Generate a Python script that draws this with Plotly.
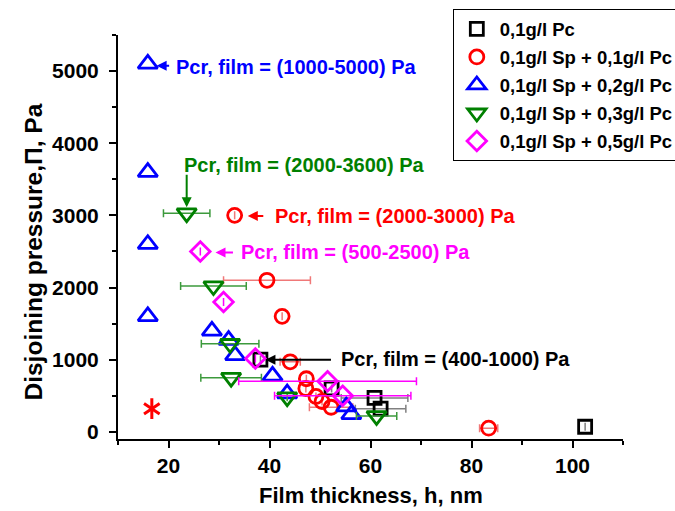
import plotly.graph_objects as go

# ---- data ----
names = ["0,1g/l Pc", "0,1g/l Sp + 0,1g/l Pc", "0,1g/l Sp + 0,2g/l Pc",
         "0,1g/l Sp + 0,3g/l Pc", "0,1g/l Sp + 0,5g/l Pc"]

pc_h = [38.2, 52.3, 60.8, 62.0, 102.5]
pc_p = [1000, 600, 470, 320, 70]
pc_err = [None, None, 6.6, 5.0, None]

sp01_h = [33.1, 39.5, 42.5, 44.1, 47.3, 47.2, 49.2, 50.4, 52.2, 83.4]
sp01_p = [3000, 2100, 1600, 970, 735, 600, 490, 420, 340, 50]
sp01_err = [None, 8.6, None, 2.0, None, None, None, None, 4.3, 1.8]

sp02_h = [15.9, 15.9, 15.9, 15.9, 28.6, 31.9, 33.2, 40.6, 43.5, 55.2, 56.2]
sp02_p = [5100, 3600, 2600, 1600, 1400, 1270, 1060, 775, 530, 350, 240]

sp03_h = [23.6, 28.9, 32.2, 32.4, 43.5, 61.2]
sp03_p = [3030, 2020, 1220, 750, 480, 220]
sp03_err = [4.6, 6.5, 5.7, 6.0, None, 4.0]

sp05_h = [26.3, 30.9, 37.2, 51.5, 54.5]
sp05_p = [2500, 1800, 1015, 700, 500]
sp05_err = [None, None, None, 17.6, 13.5]

star_h = [16.7]
star_p = [320]

x_ticks = [20, 40, 60, 80, 100]
y_ticks = [0, 1000, 2000, 3000, 4000, 5000]

x_title = "Film thickness, h, nm"
y_title = "Disjoining pressure,Π, Pa"

# annotation texts: (text, x, y, colour) and arrows: (head x, head y, ax, ay, colour)
notes = [
    ("Pcr, film = (1000-5000) Pa", 21.1, 5050, "#0000FF"),
    ("Pcr, film = (2000-3600) Pa", 22.6, 3700, "#008000"),
    ("Pcr, film = (2000-3000) Pa", 40.6, 2992, "#FF0000"),
    ("Pcr, film = (500-2500) Pa", 33.9, 2486, "#FF00FF"),
    ("Pcr, film = (400-1000) Pa", 53.8, 1008, "#000000"),
]
arrows = [
    (17.65, 5073, 14, 0, "#0000FF"),
    (23.6, 3112, 0, -34, "#008000"),
    (35.7, 2992, 17, 0, "#FF0000"),
    (29.3, 2486, 19, 0, "#FF00FF"),
    (39.2, 999, 67, 0, "#000000"),
]

FONT = "Liberation Sans, Arial, sans-serif"

series = [
    (pc_h, pc_p, pc_err, "square-open", 13, "#000000", "#808080"),
    (sp01_h, sp01_p, sp01_err, "circle-open", 14, "#FF0000", "#F07878"),
    (sp02_h, sp02_p, None, "triangle-up-open", 17, "#0000FF", "#6060FF"),
    (sp03_h, sp03_p, sp03_err, "triangle-down-open", 17, "#008000", "#3C9A3C"),
    (sp05_h, sp05_p, sp05_err, "diamond-open", 15, "#FF00FF", "#FF00FF"),
]

fig = go.Figure()
for i, (xs, ys, err, sym, size, col, ecol) in enumerate(series):
    tr = dict(
        x=xs, y=ys, mode="markers", name=names[i], legendgroup=names[i],
        marker=dict(symbol=sym, size=size, color=col, line=dict(width=2.8, color=col)),
    )
    if err is not None:
        tr["error_x"] = dict(type="data", array=err, symmetric=True, color=ecol,
                             thickness=1.5, width=4)
    fig.add_trace(go.Scatter(**tr))

# six-armed red asterisk (two Y symbols on the same point)
for sym in ("y-up-open", "y-down-open"):
    fig.add_trace(go.Scatter(
        x=star_h, y=star_p, mode="markers", showlegend=False,
        marker=dict(symbol=sym, size=13, color="#FF0000",
                    line=dict(width=3, color="#FF0000")),
    ))

for text, x, y, col in notes:
    fig.add_annotation(x=x, y=y, xref="x", yref="y", text=text, showarrow=False,
                       xanchor="left", yanchor="middle",
                       font=dict(family=FONT, size=20, color=col, weight="bold"))
for hx, hy, ax, ay, col in arrows:
    fig.add_annotation(x=hx, y=hy, xref="x", yref="y", text="", showarrow=True,
                       ax=ax, ay=ay, arrowcolor=col, arrowwidth=2, arrowhead=2,
                       arrowsize=1, standoff=0)

# axis titles placed as paper annotations
fig.add_annotation(x=0.5, y=-0.176, xref="paper", yref="paper", text=x_title,
                   showarrow=False, xanchor="center", yanchor="bottom",
                   font=dict(family=FONT, size=22, color="black", weight="bold"))
fig.add_annotation(x=-0.168, y=0.462, xref="paper", yref="paper", text=y_title,
                   showarrow=False, xanchor="center", yanchor="middle", textangle=-90,
                   font=dict(family=FONT, size=24.5, color="black", weight="bold"))

axis_common = dict(
    showline=True, linecolor="black", linewidth=2, ticks="outside",
    tickwidth=2, ticklen=7, tickcolor="black", showgrid=False, zeroline=False,
    mirror=False, tickfont=dict(family=FONT, size=21, color="black", weight="bold"),
)

fig.update_xaxes(
    range=[10, 110], tickmode="array", tickvals=x_ticks,
    ticktext=[str(v) for v in x_ticks],
    minor=dict(ticks="outside", ticklen=4, tickwidth=2, tickcolor="black", dtick=10, tick0=0),
    **axis_common,
)
fig.update_yaxes(
    range=[-100, 5500], tickmode="array", tickvals=y_ticks,
    ticktext=[str(v) for v in y_ticks], ticklabelstandoff=6,
    minor=dict(ticks="outside", ticklen=4, tickwidth=2, tickcolor="black", dtick=500, tick0=0),
    **axis_common,
)

fig.update_layout(
    width=675, height=511,
    margin=dict(l=118, r=52, t=35, b=72, autoexpand=False),
    paper_bgcolor="white", plot_bgcolor="white",
    font=dict(family=FONT, color="black"),
    legend=dict(
        x=0.663, y=1.0635, xanchor="left", yanchor="top",
        bordercolor="black", borderwidth=1, bgcolor="white",
        itemwidth=36, tracegroupgap=1,
        font=dict(family=FONT, size=18.5, color="black", weight="bold"),
    ),
)

fig.write_html(
    "out.html",
    config={"displayModeBar": False},
    post_script="document.body.style.margin='0';document.body.style.overflow='hidden';",
)
